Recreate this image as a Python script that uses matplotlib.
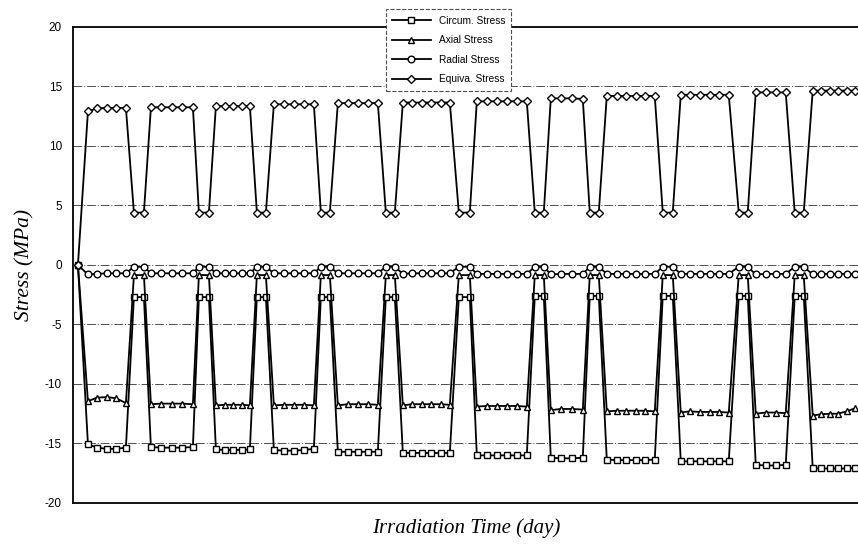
import matplotlib.pyplot as plt

plt.rcParams['font.family'] = ['Liberation Sans', 'DejaVu Sans']
plt.rcParams['axes.unicode_minus'] = False

# irradiation time (arbitrary day units)
day = [0,
       10, 19, 29, 38, 48, 56, 66,
       73, 83, 94, 104, 115, 121, 131,
       138, 147, 155, 164, 172, 179, 188,
       196, 206, 216, 226, 236, 243, 252,
       260, 270, 280, 290, 300, 308, 317,
       325, 334, 344, 353, 363, 372, 381, 392,
       399, 409, 419, 429, 439, 449, 457, 466,
       473, 483, 494, 505, 512, 521,
       529, 539, 548, 558, 567, 577, 585, 595,
       603, 612, 622, 632, 641, 651, 661, 670,
       678, 688, 698, 708, 717, 726,
       735, 743, 752, 760, 769, 777]

circum = [0,
          -15.05, -15.35, -15.45, -15.45, -15.35, -2.7, -2.7,
          -15.3, -15.35, -15.35, -15.35, -15.3, -2.7, -2.7,
          -15.5, -15.55, -15.55, -15.55, -15.5, -2.7, -2.7,
          -15.55, -15.6, -15.6, -15.55, -15.45, -2.7, -2.7,
          -15.7, -15.7, -15.7, -15.7, -15.7, -2.7, -2.7,
          -15.8, -15.8, -15.8, -15.8, -15.8, -15.8, -2.7, -2.7,
          -16.0, -16.0, -16.0, -16.0, -16.0, -16.0, -2.6, -2.6,
          -16.2, -16.25, -16.25, -16.2, -2.6, -2.6,
          -16.35, -16.4, -16.4, -16.4, -16.4, -16.35, -2.6, -2.6,
          -16.5, -16.5, -16.5, -16.5, -16.5, -16.5, -2.6, -2.6,
          -16.8, -16.85, -16.85, -16.8, -2.6, -2.6,
          -17.1, -17.1, -17.1, -17.1, -17.1, -17.05]

axial = [0,
         -11.45, -11.15, -11.1, -11.2, -11.6, -0.85, -0.85,
         -11.7, -11.65, -11.65, -11.65, -11.7, -0.85, -0.85,
         -11.8, -11.75, -11.75, -11.75, -11.8, -0.85, -0.85,
         -11.8, -11.75, -11.75, -11.75, -11.8, -0.85, -0.85,
         -11.8, -11.7, -11.7, -11.7, -11.75, -0.85, -0.85,
         -11.8, -11.7, -11.7, -11.7, -11.7, -11.75, -0.85, -0.85,
         -11.9, -11.85, -11.85, -11.85, -11.85, -11.9, -0.85, -0.85,
         -12.2, -12.1, -12.1, -12.15, -0.85, -0.85,
         -12.3, -12.25, -12.25, -12.25, -12.25, -12.3, -0.85, -0.85,
         -12.4, -12.3, -12.35, -12.35, -12.35, -12.4, -0.85, -0.85,
         -12.5, -12.4, -12.4, -12.45, -0.85, -0.85,
         -12.65, -12.55, -12.5, -12.5, -12.3, -12.05]

radial = [0,
          -0.8, -0.75, -0.7, -0.7, -0.7, -0.15, -0.15,
          -0.7, -0.7, -0.7, -0.7, -0.7, -0.15, -0.15,
          -0.7, -0.7, -0.7, -0.7, -0.7, -0.15, -0.15,
          -0.7, -0.7, -0.7, -0.7, -0.7, -0.15, -0.15,
          -0.7, -0.7, -0.7, -0.7, -0.7, -0.15, -0.15,
          -0.75, -0.7, -0.7, -0.7, -0.7, -0.7, -0.15, -0.15,
          -0.75, -0.75, -0.75, -0.75, -0.75, -0.75, -0.15, -0.15,
          -0.8, -0.75, -0.75, -0.75, -0.15, -0.15,
          -0.75, -0.75, -0.75, -0.75, -0.75, -0.75, -0.15, -0.15,
          -0.75, -0.75, -0.75, -0.75, -0.75, -0.75, -0.15, -0.15,
          -0.8, -0.75, -0.75, -0.75, -0.15, -0.15,
          -0.8, -0.75, -0.75, -0.75, -0.75, -0.75]

equiva = [0,
          12.9, 13.15, 13.2, 13.2, 13.2, 4.4, 4.4,
          13.25, 13.25, 13.25, 13.25, 13.25, 4.4, 4.4,
          13.35, 13.35, 13.35, 13.35, 13.35, 4.4, 4.4,
          13.5, 13.5, 13.5, 13.5, 13.5, 4.4, 4.4,
          13.6, 13.6, 13.6, 13.6, 13.6, 4.4, 4.4,
          13.65, 13.65, 13.65, 13.65, 13.65, 13.65, 4.4, 4.4,
          13.75, 13.75, 13.75, 13.75, 13.75, 13.75, 4.4, 4.4,
          14.0, 14.0, 14.0, 13.95, 4.4, 4.4,
          14.2, 14.2, 14.2, 14.2, 14.2, 14.2, 4.4, 4.4,
          14.3, 14.3, 14.3, 14.3, 14.3, 14.3, 4.4, 4.4,
          14.5, 14.5, 14.5, 14.5, 4.4, 4.4,
          14.65, 14.65, 14.65, 14.65, 14.65, 14.65]

fig = plt.figure(figsize=(8.58, 5.5), dpi=100)
ax = fig.add_axes([0.085, 0.0855, 0.917, 0.8655])

style = dict(color='black', lw=1.3, markerfacecolor='white',
             markeredgecolor='black', markeredgewidth=1.0)
ax.plot(day, circum, marker='s', ms=4.8, label='Circum. Stress', **style)
ax.plot(day, axial, marker='^', ms=5, label='Axial Stress', **style)
ax.plot(day, radial, marker='o', ms=4.8, label='Radial Stress', **style)
ax.plot(day, equiva, marker='D', ms=3.6, label='Equiva. Stress', **style)

ax.set_xlim(-5, 782)
ax.set_ylim(-20, 20)
ax.set_yticks(range(-20, 21, 5))
ax.set_xticks([])
ax.tick_params(axis='y', length=0, pad=8, labelsize=8.5)
for v in range(-15, 16, 5):
    ax.axhline(v, color='0.3', lw=0.7, ls=(0, (9, 2, 1, 2)), zorder=0)
for s in ['left', 'bottom', 'top']:
    ax.spines[s].set_linewidth(1.3)
ax.spines['right'].set_visible(False)

ax.set_ylabel('Stress (MPa)', family='Liberation Serif', style='italic',
              fontsize=15.5, labelpad=7)
ax.set_xlabel('Irradiation Time (day)', family='Liberation Serif', style='italic',
              fontsize=15, labelpad=11)

leg = fig.legend(loc='upper center', bbox_to_anchor=(0.523, 0.992), fontsize=7.3,
                 handlelength=3.8, labelspacing=0.95, borderpad=0.6,
                 fancybox=False, framealpha=1, edgecolor='0.3')
leg.get_frame().set_linestyle('--')
leg.get_frame().set_linewidth(0.8)

fig.savefig('out.png', dpi=100)
